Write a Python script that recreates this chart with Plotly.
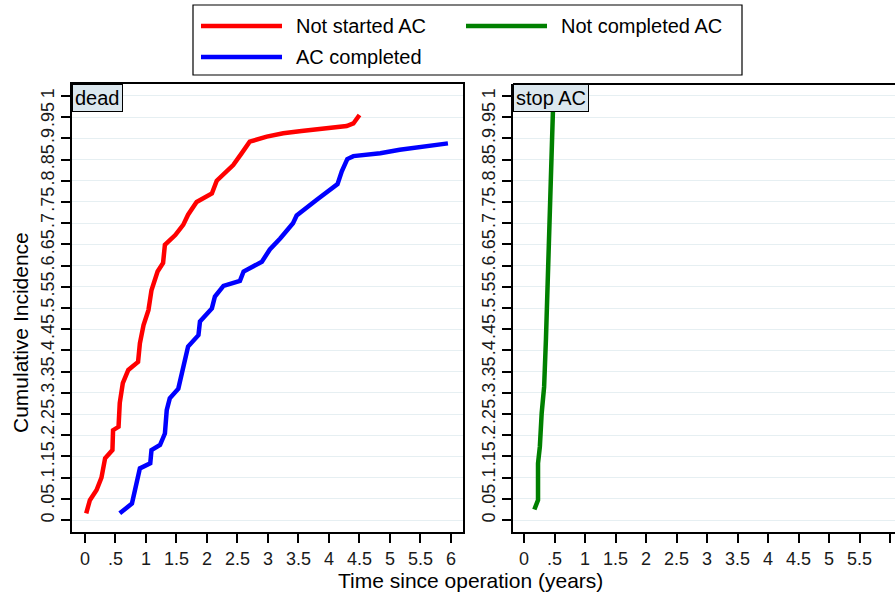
import plotly.graph_objects as go

# ---------------- data ----------------
series_names = ["Not started AC", "AC completed", "Not completed AC"]
panel_labels = ["dead", "stop AC"]

red_t = [0.02, 0.08, 0.19, 0.27, 0.33, 0.45, 0.46, 0.55, 0.57, 0.62, 0.71, 0.87, 0.90, 0.96,
         1.04, 1.09, 1.19, 1.28, 1.31, 1.48, 1.61, 1.69, 1.83, 1.885, 2.08, 2.16, 2.43, 2.57,
         2.70, 2.98, 3.25, 3.55, 3.80, 4.05, 4.29, 4.40, 4.45, 4.50]
red_v = [0.016, 0.047, 0.071, 0.100, 0.146, 0.165, 0.212, 0.220, 0.276, 0.323, 0.354, 0.373,
         0.417, 0.460, 0.495, 0.542, 0.586, 0.606, 0.649, 0.672, 0.696, 0.720, 0.750, 0.755,
         0.770, 0.800, 0.837, 0.865, 0.892, 0.904, 0.912, 0.917, 0.921, 0.925, 0.929, 0.935,
         0.947, 0.955]

blue_t = [0.57, 0.77, 0.82, 0.90, 1.07, 1.09, 1.23, 1.31, 1.34, 1.39, 1.53, 1.61, 1.69, 1.86,
          1.885, 2.08, 2.13, 2.27, 2.54, 2.60, 2.76, 2.90, 3.03, 3.20, 3.41, 3.47, 3.80, 4.14,
          4.21, 4.30, 4.40, 4.62, 4.84, 5.16, 5.60, 5.95]
blue_v = [0.016, 0.039, 0.071, 0.122, 0.134, 0.165, 0.177, 0.204, 0.259, 0.287, 0.310, 0.362,
          0.409, 0.436, 0.468, 0.499, 0.527, 0.552, 0.564, 0.586, 0.597, 0.609, 0.638, 0.664,
          0.700, 0.718, 0.755, 0.792, 0.822, 0.851, 0.858, 0.861, 0.865, 0.873, 0.880, 0.888]

green_t = [0.17, 0.20, 0.23, 0.23, 0.26, 0.29, 0.33, 0.36, 0.38, 0.41, 0.44, 0.46, 0.47, 0.48]
green_v = [0.025, 0.035, 0.047, 0.134, 0.173, 0.252, 0.314, 0.427, 0.523, 0.645, 0.818, 0.916,
           0.963, 0.990]

y_tickvals = [i * 0.05 for i in range(21)]
y_ticktext = ["0", ".05", ".1", ".15", ".2", ".25", ".3", ".35", ".4", ".45", ".5",
              ".55", ".6", ".65", ".7", ".75", ".8", ".85", ".9", ".95", "1"]
x_tickvals = [i * 0.5 for i in range(13)]
x_ticktext = ["0", ".5", "1", "1.5", "2", "2.5", "3", "3.5", "4", "4.5", "5", "5.5", "6"]

colors = ["#ff0000", "#0000ff", "#008000"]

# ---------------- figure ----------------
W, H = 895, 597
FONT = "Arial, Liberation Sans, sans-serif"

fig = go.Figure()
fig.add_trace(go.Scatter(x=red_t, y=red_v, mode="lines", name=series_names[0],
                         line=dict(color=colors[0], width=4.5), xaxis="x", yaxis="y",
                         showlegend=False))
fig.add_trace(go.Scatter(x=blue_t, y=blue_v, mode="lines", name=series_names[1],
                         line=dict(color=colors[1], width=4.5), xaxis="x", yaxis="y",
                         showlegend=False))
fig.add_trace(go.Scatter(x=green_t, y=green_v, mode="lines", name=series_names[2],
                         line=dict(color=colors[2], width=4.5), xaxis="x2", yaxis="y2",
                         showlegend=False))

def px_x(p):
    return p / W

def px_y(p):
    return 1 - p / H

left_dom = [px_x(72), px_x(463)]
right_dom = [px_x(513), 1.0]
y_dom = [px_y(532), px_y(84)]

grid_col = "#e6eff2"
tick_font = dict(family=FONT, size=18, color="#1a1a1a")

common_x = dict(tickmode="array", tickvals=x_tickvals, ticktext=x_ticktext,
                ticks="outside", ticklen=9, tickwidth=1.5, tickcolor="black",
                showgrid=False, zeroline=False, showline=True, linecolor="black",
                linewidth=2, tickfont=tick_font)
common_y = dict(tickmode="array", tickvals=y_tickvals, ticktext=y_ticktext,
                ticks="outside", ticklen=9, tickwidth=1.5, tickcolor="black",
                showgrid=True, gridcolor=grid_col, gridwidth=1.2, zeroline=False,
                showline=True, linecolor="black", linewidth=2, tickangle=-90,
                tickfont=tick_font, range=[-0.028, 1.028])

fig.update_layout(
    width=W, height=H, margin=dict(l=0, r=0, t=0, b=0),
    paper_bgcolor="white", plot_bgcolor="white",
    font=dict(family=FONT, color="black"),
    xaxis=dict(domain=left_dom, range=[-0.213, 6.197], anchor="y", mirror=True, **common_x),
    yaxis=dict(domain=y_dom, anchor="x", mirror=True, **common_y),
    xaxis2=dict(domain=right_dom, range=[-0.18, 6.08], anchor="y2", **common_x),
    yaxis2=dict(domain=y_dom, anchor="x2", **common_y),
    showlegend=False,
)

shapes = []
# top border of right panel (right border is outside the picture)
shapes.append(dict(type="line", xref="x2 domain", yref="y2 domain", x0=0, x1=1, y0=1, y1=1,
                   line=dict(color="black", width=2)))

# legend box
shapes.append(dict(type="rect", xref="paper", yref="paper",
                   x0=px_x(193), x1=px_x(742), y0=px_y(75), y1=px_y(5),
                   line=dict(color="black", width=1.2), fillcolor="white"))
legend_items = [(series_names[0], colors[0], 201, 26),
                (series_names[2], colors[2], 466, 26),
                (series_names[1], colors[1], 201, 57)]
annotations = []
for name, col, lx, ly in legend_items:
    shapes.append(dict(type="line", xref="paper", yref="paper",
                       x0=px_x(lx), x1=px_x(lx + 81), y0=px_y(ly), y1=px_y(ly),
                       line=dict(color=col, width=4.5)))
    annotations.append(dict(xref="paper", yref="paper", x=px_x(lx + 93), y=px_y(ly),
                            xanchor="left", yanchor="middle", showarrow=False, text=name,
                            font=dict(family=FONT, size=20, color="black")))

# panel header labels
for lab, xr, yr in [(panel_labels[0], "x domain", "y domain"),
                    (panel_labels[1], "x2 domain", "y2 domain")]:
    annotations.append(dict(xref=xr, yref=yr, x=0, y=1, xanchor="left", yanchor="top",
                            showarrow=False, text=lab, bgcolor="#dbe7ee",
                            bordercolor="black", borderwidth=1, borderpad=2,
                            font=dict(family=FONT, size=20, color="black")))

# axis titles
annotations.append(dict(xref="paper", yref="paper", x=px_x(20), y=px_y(333),
                        xanchor="center", yanchor="middle", showarrow=False,
                        text="Cumulative Incidence", textangle=-90,
                        font=dict(family=FONT, size=21, color="black")))
annotations.append(dict(xref="paper", yref="paper", x=px_x(471), y=px_y(580),
                        xanchor="center", yanchor="middle", showarrow=False,
                        text="Time since operation (years)",
                        font=dict(family=FONT, size=21, color="black")))

fig.update_layout(shapes=shapes, annotations=annotations)

fig.write_html(
    "out.html",
    config={"displayModeBar": False},
    post_script="document.body.style.margin='0';document.body.style.padding='0';"
                "document.body.style.overflow='hidden';",
)
